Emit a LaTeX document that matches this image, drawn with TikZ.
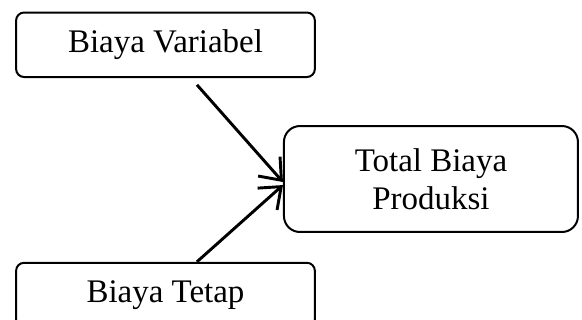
\documentclass[tikz,border=0pt]{standalone}
\usepackage{fontspec}
\setmainfont{Liberation Serif}
\usetikzlibrary{arrows.meta,positioning}

\begin{document}
\begin{tikzpicture}[>={Straight Barb[length=7pt,width=11pt]},node distance=2.43cm]
  \tikzstyle{box}=[draw,rounded corners=3pt,minimum width=3.95cm,minimum height=0.853cm,align=center,line width=0.75pt,font=\fontsize{12.4}{14.5}\selectfont]
  \useasboundingbox (0,0) rectangle (7.695,-4.231);
  \node[box] (vari) at (2.188,-0.592) {Biaya Variabel};
  \node[box,below=of vari] (tetap) {Biaya Tetap};
  \node[box,rounded corners=6pt,minimum width=3.887cm,minimum height=1.401cm] (total) at (5.698,-2.367) {Total Biaya\\Produksi};
  \draw[line width=1.1pt,->] ([xshift=0.416cm,yshift=-0.09cm]vari.south) -- ([yshift=-0.04cm]total.west);
  \draw[line width=1.1pt,->] ([xshift=0.416cm]tetap.north) -- ([yshift=-0.08cm]total.west);
\end{tikzpicture}
\end{document}
